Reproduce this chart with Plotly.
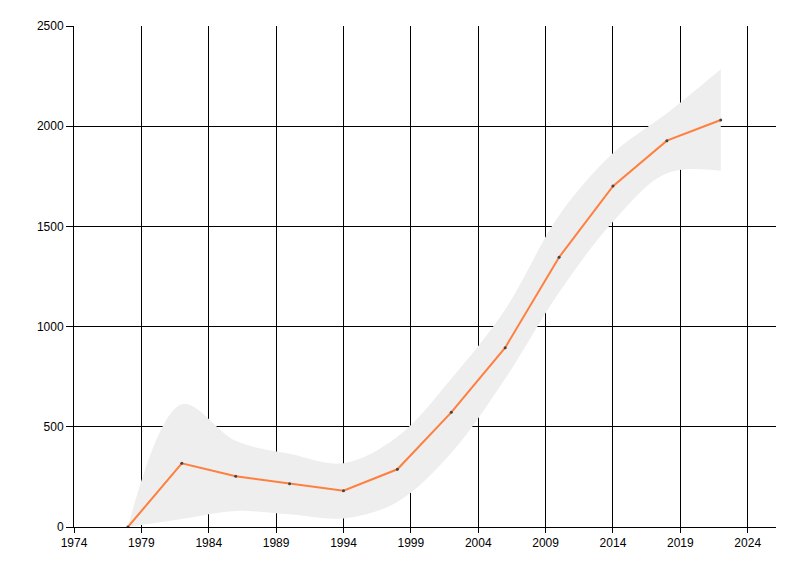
import plotly.graph_objects as go

years = [1978, 1982, 1986, 1990, 1994, 1998, 2002, 2006, 2010, 2014, 2018, 2022]
values = [0, 318, 253, 216, 181, 288, 572, 895, 1346, 1701, 1928, 2031]
band_upper = [0, 612, 430, 365, 318, 450, 740, 1085, 1555, 1865, 2064, 2284]
band_lower = [0, 40, 80, 63, 43, 125, 370, 740, 1170, 1523, 1765, 1778]

x_ticks = [1974, 1979, 1984, 1989, 1994, 1999, 2004, 2009, 2014, 2019, 2024]
y_ticks = [0, 500, 1000, 1500, 2000, 2500]

fig = go.Figure()
fig.add_trace(go.Scatter(x=years, y=band_lower, mode="lines",
                         line=dict(width=0, shape="spline", smoothing=1.0, color="#EEEEEE"),
                         hoverinfo="skip", showlegend=False))
fig.add_trace(go.Scatter(x=years, y=band_upper, mode="lines", fill="tonexty",
                         fillcolor="#EEEEEE",
                         line=dict(width=0, shape="spline", smoothing=1.0, color="#EEEEEE"),
                         hoverinfo="skip", showlegend=False))
fig.add_trace(go.Scatter(x=years, y=values, mode="lines+markers",
                         line=dict(color="#FF7F3F", width=2),
                         marker=dict(size=3, color="#444444"),
                         showlegend=False))

axis_font = dict(family="Liberation Sans, Arial, sans-serif", size=12, color="#000000")
fig.update_layout(
    width=792, height=568,
    margin=dict(l=66, r=24, t=18, b=49),
    paper_bgcolor="white", plot_bgcolor="white",
    font=axis_font,
    xaxis=dict(range=[1974, 2026.1], tickvals=x_ticks, ticktext=[str(t) for t in x_ticks],
               showgrid=True, gridcolor="#000000", gridwidth=1,
               showline=True, linecolor="#000000", linewidth=1,
               ticks="outside", ticklen=5, tickcolor="#000000",
               zeroline=False, tickfont=axis_font),
    yaxis=dict(range=[0, 2500], tickvals=y_ticks, ticktext=[str(t) for t in y_ticks],
               showgrid=True, gridcolor="#000000", gridwidth=1,
               showline=True, linecolor="#000000", linewidth=1,
               ticks="outside", ticklen=7, tickcolor="#000000",
               zeroline=False, tickfont=axis_font),
)

fig.write_html("out.html")
